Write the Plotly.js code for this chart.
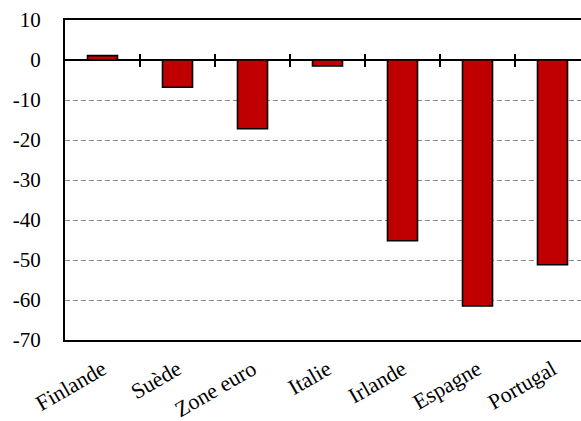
<!DOCTYPE html>
<html>
<head>
<meta charset="utf-8">
<script src="https://cdn.plot.ly/plotly-3.0.1.min.js"></script>
<style>
html, body { margin: 0; padding: 0; overflow: hidden; background: #fff; }
#chart { width: 600px; height: 421px; }
</style>
</head>
<body>
<div id="chart"></div>
<script>
const categories = ["Finlande", "Suède", "Zone euro", "Italie", "Irlande", "Espagne", "Portugal"];
const values = [1.1, -6.8, -17.2, -1.5, -45.2, -61.5, -51.2];
const yTickVals = [10, 0, -10, -20, -30, -40, -50, -60, -70];
const yTickText = ["10", "0", "-10", "-20", "-30", "-40", "-50", "-60", "-70"];

const idx = categories.map((c, i) => i);
const boundaries = categories.map((c, i) => i + 0.5);
const yMin = -70, yMax = 10;
const zeroPos = (0 - yMin) / (yMax - yMin);
const xRange = [-0.5, categories.length - 0.5];
const font = { family: "'Liberation Serif'", size: 21, color: "#000" };
const xFont = { family: "'Liberation Serif'", size: 22, color: "#000" };

const bars = {
  type: "bar",
  x: idx,
  y: values,
  width: 0.4,
  marker: { color: "#C00000", line: { color: "#000", width: 1.6 } },
  hoverinfo: "skip"
};
const helper = (xa) => ({
  type: "scatter",
  mode: "markers",
  x: boundaries,
  y: boundaries.map(() => 0),
  xaxis: xa,
  yaxis: "y",
  marker: { opacity: 0, size: 1 },
  hoverinfo: "skip"
});

const tickAxisBase = {
  overlaying: "x",
  anchor: "free",
  position: zeroPos,
  range: xRange,
  tickvals: boundaries,
  showticklabels: false,
  showgrid: false,
  zeroline: false,
  showline: false,
  ticklen: 6,
  tickwidth: 1.3,
  tickcolor: "#000"
};

const layout = {
  width: 600,
  height: 421,
  margin: { l: 65, r: 10, t: 20, b: 81 },
  paper_bgcolor: "#fff",
  plot_bgcolor: "#fff",
  font: font,
  showlegend: false,
  xaxis: {
    range: xRange,
    tickvals: idx,
    ticktext: categories,
    tickangle: -30,
    ticks: "",
    showgrid: false,
    zeroline: false,
    showline: true,
    linecolor: "#000",
    linewidth: 2,
    mirror: true,
    tickfont: xFont,
    ticklabelstandoff: 6
  },
  xaxis2: Object.assign({}, tickAxisBase, { ticks: "outside" }),
  xaxis3: Object.assign({}, tickAxisBase, { ticks: "inside" }),
  yaxis: {
    range: [yMin, yMax],
    tickvals: yTickVals,
    ticktext: yTickText,
    ticks: "",
    showgrid: true,
    gridcolor: "#8c8c8c",
    gridwidth: 1,
    griddash: "5px,3px",
    zeroline: true,
    zerolinecolor: "#000",
    zerolinewidth: 1.5,
    showline: true,
    linecolor: "#000",
    linewidth: 2,
    tickfont: font,
    ticklabelstandoff: 18
  }
};

Plotly.newPlot("chart", [helper("x2"), helper("x3"), bars], layout, { displayModeBar: false, staticPlot: true });
</script>
</body>
</html>
